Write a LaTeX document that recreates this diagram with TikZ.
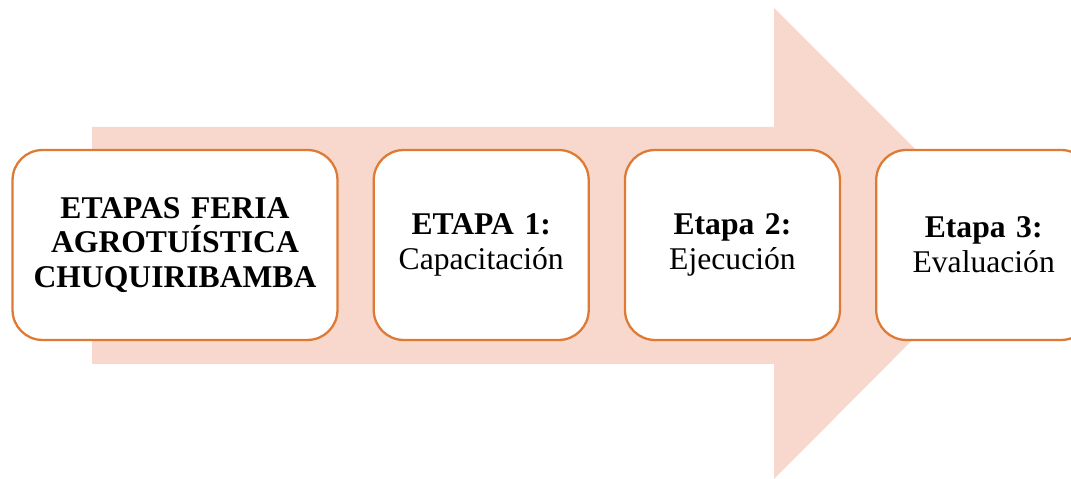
\documentclass[tikz,border=0pt]{standalone}
\usepackage{fontspec}
\setmainfont{Liberation Serif}
\usepackage{tikz}
\usetikzlibrary{positioning}
\definecolor{arrowfill}{RGB}{248,216,205}
\definecolor{stageline}{RGB}{222,122,52}

\begin{document}
\begin{tikzpicture}[x=0.02cm,y=0.02cm]

        % Define block styles
        \tikzstyle{title} = [rectangle, draw=stageline, line width=1.3pt, fill=white, text width=6.2cm, align=center, rounded corners=0.6cm, minimum width=6.5cm, minimum height=3.8cm, font=\fontsize{18}{19.8}\selectfont\bfseries]
        \tikzstyle{stage} = [rectangle, draw=stageline, line width=1.3pt, fill=white, text width=4cm, align=center, rounded corners=0.6cm, minimum width=4.3cm, minimum height=3.8cm, font=\fontsize{18}{19.8}\selectfont]

        % Page
        \useasboundingbox (0,0) rectangle (1071,479);

        % Big arrow
        \fill[arrowfill] (92,115) -- (774,115) -- (774,0) -- (1009,236) -- (774,471) -- (774,352) -- (92,352) -- cycle;

        % Stages
        \node (feria) [title] at (175,234) {ETAPAS FERIA AGROTUÍSTICA CHUQUIRIBAMBA};
        \node (etapa1) [stage, right=0.68cm of feria] {\textbf{ETAPA 1:}\\Capacitación};
        \node (etapa2) [stage, right=0.68cm of etapa1] {\textbf{Etapa 2:}\\Ejecución};
        \node (etapa3) [stage, right=0.68cm of etapa2] {\textbf{Etapa 3:}\\Evaluación};

\end{tikzpicture}
\end{document}
